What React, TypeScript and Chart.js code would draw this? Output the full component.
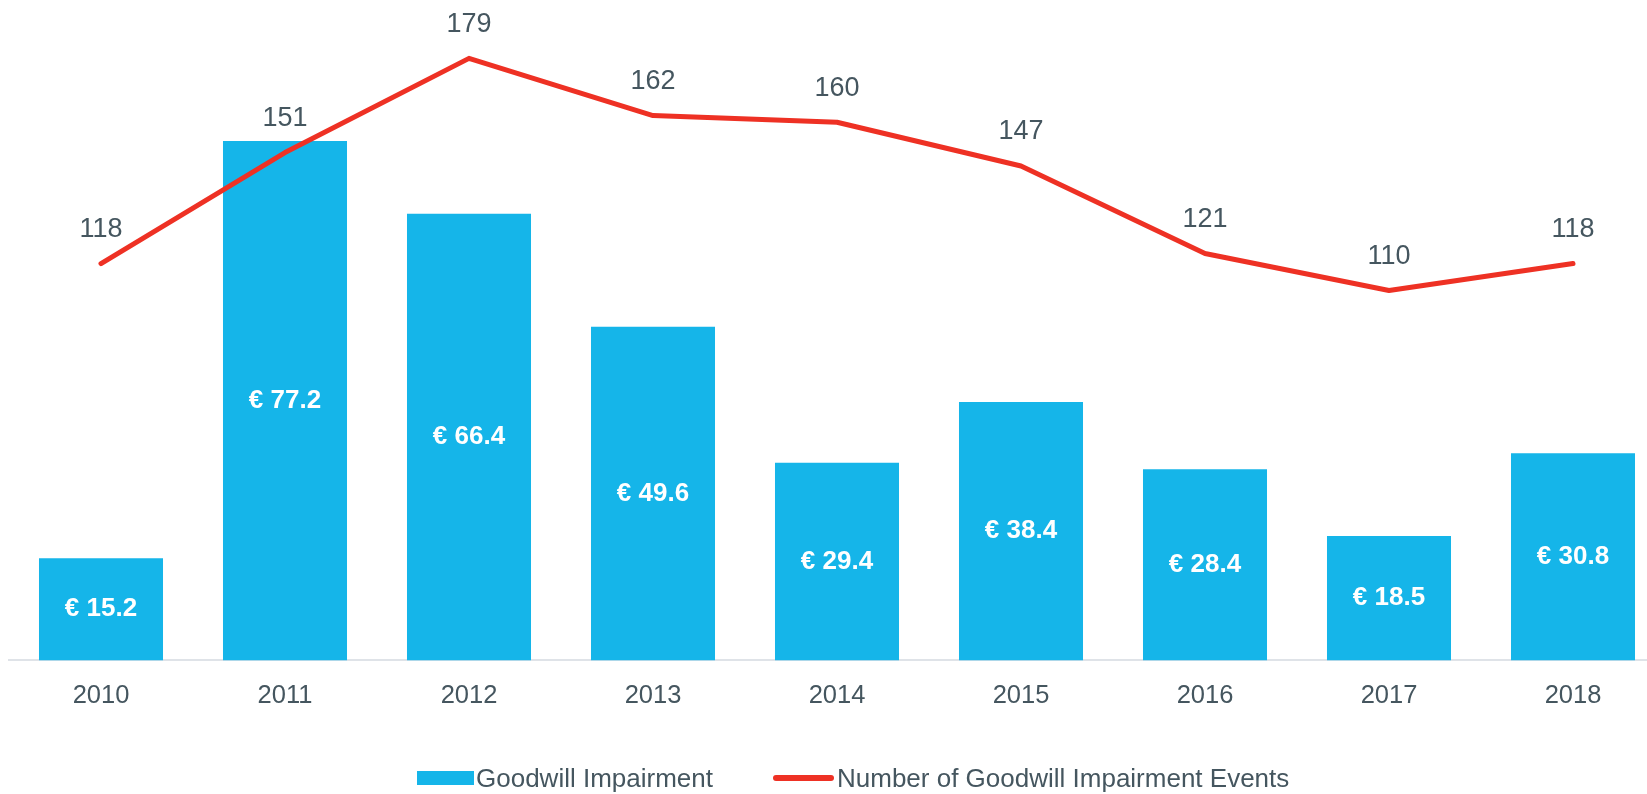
import React, { useEffect, useRef } from "react";
import { Chart, registerables } from "chart.js";

Chart.register(...registerables);

const years = ["2010", "2011", "2012", "2013", "2014", "2015", "2016", "2017", "2018"];
const impairment = [15.2, 77.2, 66.4, 49.6, 29.4, 38.4, 28.4, 18.5, 30.8];
const events = [118, 151, 179, 162, 160, 147, 121, 110, 118];
const seriesNames = ["Goodwill Impairment", "Number of Goodwill Impairment Events"];

const FONT = "'Liberation Sans', Arial, Helvetica, sans-serif";
const TEXT = "#45565f";
const BLUE = "#15b5e9";
const RED = "#ee3124";
const AXIS = "#dfe3e8";

const valueLabels = {
  id: "valueLabels",
  afterDatasetsDraw(chart: any) {
    const ctx = chart.ctx;
    ctx.save();
    ctx.textAlign = "center";
    ctx.textBaseline = "middle";
    chart.data.datasets.forEach((ds: any, i: number) => {
      const meta = chart.getDatasetMeta(i);
      meta.data.forEach((el: any, j: number) => {
        const v = ds.data[j];
        if (meta.type === "bar") {
          ctx.font = `bold 26px ${FONT}`;
          ctx.fillStyle = "#ffffff";
          ctx.fillText(`€ ${v.toFixed(1)}`, el.x, (el.y + el.base) / 2);
        } else {
          ctx.font = `27px ${FONT}`;
          ctx.fillStyle = TEXT;
          ctx.fillText(String(v), el.x, el.y - 34);
        }
      });
    });
    ctx.restore();
  },
};

export default function App() {
  const ref = useRef<HTMLCanvasElement | null>(null);

  useEffect(() => {
    document.body.style.margin = "0";
    if (!ref.current) return;
    const chart = new Chart(ref.current, {
      type: "bar",
      data: {
        labels: years,
        datasets: [
          {
            type: "line",
            label: seriesNames[1],
            data: events,
            borderColor: RED,
            backgroundColor: RED,
            borderWidth: 5,
            pointRadius: 0,
            pointHoverRadius: 0,
            tension: 0,
            yAxisID: "yLine",
            order: 0,
            borderCapStyle: "round",
            borderJoinStyle: "round",
            clip: false,
          } as any,
          {
            type: "bar",
            label: seriesNames[0],
            data: impairment,
            backgroundColor: BLUE,
            yAxisID: "yBar",
            order: 1,
            categoryPercentage: 1,
            barPercentage: 0.674,
          } as any,
        ],
      },
      options: {
        responsive: false,
        maintainAspectRatio: false,
        animation: false,
        events: [],
        layout: { padding: { left: 9, right: 0, top: 55, bottom: 71 }, autoPadding: false },
        plugins: { legend: { display: false }, tooltip: { enabled: false } },
        scales: {
          x: {
            grid: { display: false },
            border: { display: true, color: AXIS, width: 2 },
            ticks: {
              color: TEXT,
              font: { family: FONT, size: 25.5 },
              padding: 12,
              maxRotation: 0,
              autoSkip: false,
            },
          },
          yBar: { display: false, min: 0, max: 90 },
          yLine: { display: false, min: 0, max: 180 },
        },
      } as any,
      plugins: [valueLabels],
    });
    return () => chart.destroy();
  }, []);

  const legendText: React.CSSProperties = {
    position: "absolute",
    top: 763,
    font: `26px ${FONT}`,
    lineHeight: "30px",
    color: TEXT,
    whiteSpace: "nowrap",
  };

  return (
    <div
      style={{
        position: "fixed",
        left: 0,
        top: 0,
        width: 1647,
        height: 794,
        overflow: "hidden",
        background: "#ffffff",
      }}
    >
      <canvas ref={ref} width={1665} height={794} style={{ position: "absolute", left: 0, top: 0 }} />
      <div style={{ position: "absolute", left: 417, top: 771, width: 57, height: 14, background: BLUE }} />
      <div style={{ ...legendText, left: 476 }}>{seriesNames[0]}</div>
      <div
        style={{ position: "absolute", left: 773, top: 775, width: 61, height: 6, borderRadius: 3, background: RED }}
      />
      <div style={{ ...legendText, left: 837 }}>{seriesNames[1]}</div>
    </div>
  );
}
